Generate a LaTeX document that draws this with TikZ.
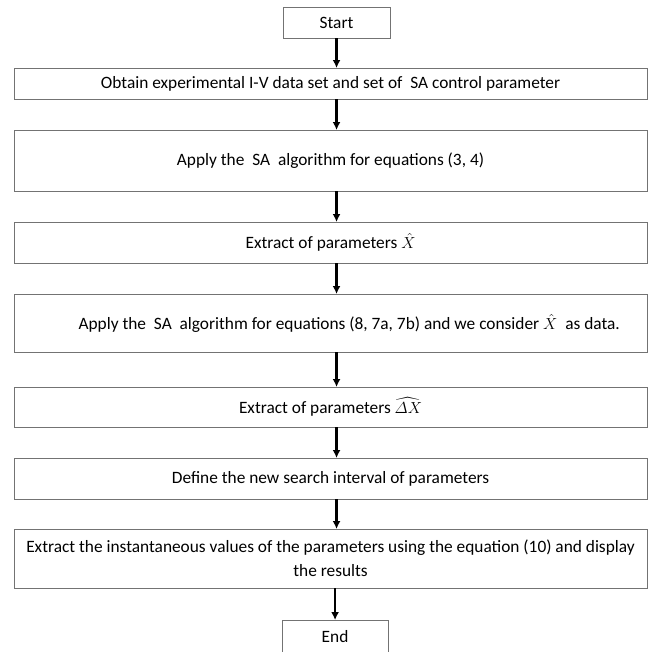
\documentclass[tikz,border=0pt]{standalone}
\usepackage{amsmath}
\usepackage{fontspec}
\setmainfont{Carlito}
\usetikzlibrary{positioning,arrows.meta}

\begin{document}
\begin{tikzpicture}[proc/.style={draw=black!55,line width=.6pt,outer sep=0pt,inner xsep=2pt,minimum width=474.75pt,align=center,font=\fontsize{13pt}{18pt}\selectfont},
	term/.style={proc,minimum width=80.25pt,minimum height=23.25pt},
	fl/.style={->,>={Latex[length=6pt,width=6pt]},line width=1.6pt}]
		\useasboundingbox (0,0) rectangle (492pt,-488.25pt);
		\node[term,anchor=north] (start) at (252.4pt,-5.25pt) {Start};
		\node[proc,minimum height=23.25pt] (obt) [below=22.5pt of start,xshift=-4.5pt] {Obtain experimental I-V data set and set of \ SA control parameter};
		\node[proc,minimum height=45.75pt] (sa1) [below=23.25pt of obt] {Apply the \ SA \ algorithm for equations (3, 4)};
		\node[proc,minimum height=30.75pt] (ext1) [below=23.25pt of sa1] {Extract of parameters $\hat{X}$};
		\node[proc,minimum height=43.5pt] (sa2) [below=23.25pt of ext1] {\hspace*{28pt}Apply the \ SA \ algorithm for equations (8, 7a, 7b) and we consider $\hat{X}$ \ as data.};
		\node[proc,minimum height=30pt] (ext2) [below=26.25pt of sa2] {Extract of parameters $\widehat{\varDelta X}$};
		\node[proc,minimum height=30.75pt] (def) [below=23.25pt of ext2] {Define the new search interval of parameters};
		\node[proc,minimum height=44.25pt] (inst) [below=22.5pt of def] {Extract the instantaneous values of the parameters using the equation (10) and display\\ the results};
		\node[term,minimum height=24.75pt,minimum width=79.5pt] (end) [below=24pt of inst,xshift=3.4pt] {End};

		\draw[fl] (start) -- (start |- obt.north);
		\draw[fl] (obt.south -| start) -- (sa1.north -| start);
		\draw[fl] (sa1.south -| start) -- (ext1.north -| start);
		\draw[fl] (ext1.south -| start) -- (sa2.north -| start);
		\draw[fl] (sa2.south -| start) -- (ext2.north -| start);
		\draw[fl] (ext2.south -| start) -- (def.north -| start);
		\draw[fl] (def.south -| start) -- (inst.north -| start);
		\draw[fl] (inst.south -| end) -- (end);
	\end{tikzpicture}
\end{document}
